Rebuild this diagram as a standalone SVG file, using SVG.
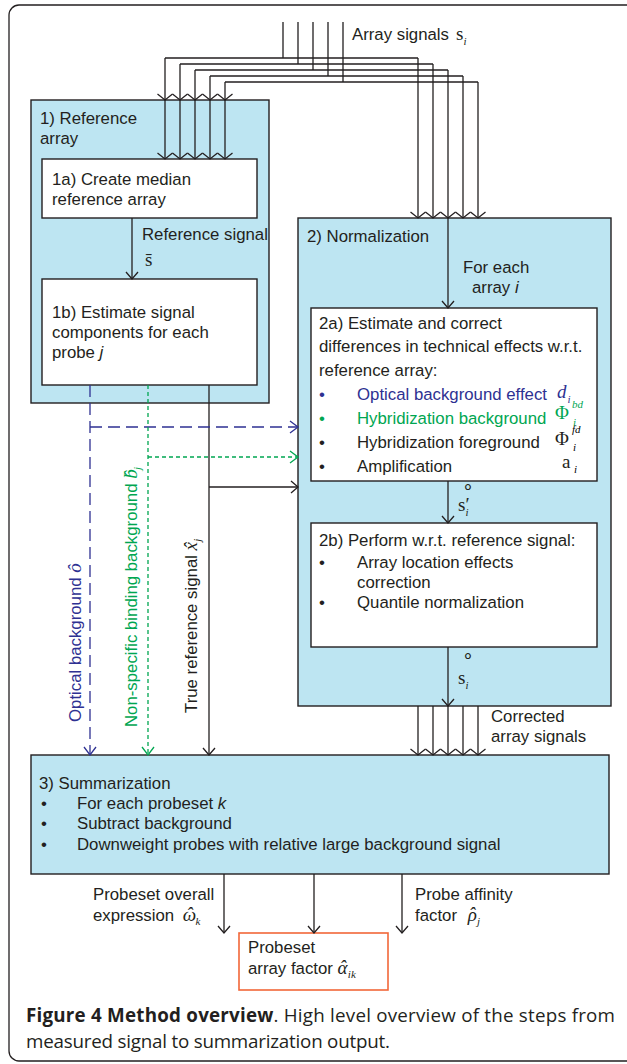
<svg xmlns="http://www.w3.org/2000/svg" width="627" height="1064" viewBox="0 0 627 1064">
<style>
.t{font-family:"Liberation Sans",Arial,sans-serif;font-size:16.8px;fill:#231f20}
.m{font-family:"Liberation Serif","Times New Roman",serif;font-size:19px;fill:#231f20}
.mi{font-family:"Liberation Serif","Times New Roman",serif;font-style:italic;font-size:19px}
.sub{font-family:"Liberation Serif","Times New Roman",serif;font-style:italic;font-size:11px}
.blue{fill:#2e3192}
.green{fill:#00a651}
.box{fill:#bde5f2;stroke:#231f20;stroke-width:1.4}
.wbox{fill:#ffffff;stroke:#231f20;stroke-width:1.4}
.ln{fill:none;stroke:#231f20;stroke-width:1.3}
.cap{font-family:"Open Sans","Noto Sans",sans-serif;font-size:18.8px;fill:#231f20}
</style>
<defs>
<marker id="ah" markerUnits="userSpaceOnUse" markerWidth="20" markerHeight="20" viewBox="-10 -10 20 20" refX="0" refY="0" orient="auto">
<path d="M-7,-6 L0,0 L-7,6" fill="none" stroke="#231f20" stroke-width="1.3"/>
</marker>
<marker id="az" markerUnits="userSpaceOnUse" markerWidth="20" markerHeight="20" viewBox="-10 -10 20 20" refX="0" refY="0" orient="auto">
<path d="M-6,-7.5 L0,0 L-6,7.5" fill="none" stroke="#231f20" stroke-width="1.3"/>
</marker>
<marker id="ab" markerUnits="userSpaceOnUse" markerWidth="20" markerHeight="20" viewBox="-10 -10 20 20" refX="0" refY="0" orient="auto">
<path d="M-8,-6 L0,0 L-8,6" fill="none" stroke="#2e3192" stroke-width="1.3"/>
</marker>
<marker id="ag" markerUnits="userSpaceOnUse" markerWidth="20" markerHeight="20" viewBox="-10 -10 20 20" refX="0" refY="0" orient="auto">
<path d="M-8,-6 L0,0 L-8,6" fill="none" stroke="#00a651" stroke-width="1.3"/>
</marker>
</defs>

<rect x="9" y="5" width="640" height="1056" rx="10" fill="#ffffff" stroke="#231f20" stroke-width="1.3"/>

<g id="box1">
<rect class="box" x="31" y="100" width="238" height="303"/>
<text class="t" x="40" y="124">1) Reference</text>
<text class="t" x="40" y="144">array</text>
</g>
<g id="box1a">
<rect class="wbox" x="42" y="159" width="215" height="59"/>
<text class="t" x="52" y="185">1a) Create median</text>
<text class="t" x="52" y="205">reference array</text>
</g>
<g id="box1b">
<rect class="wbox" x="42" y="279" width="215" height="106"/>
<text class="t" x="52" y="318">1b) Estimate signal</text>
<text class="t" x="52" y="338">components for each</text>
<text class="t" x="52" y="358">probe <tspan font-style="italic">j</tspan></text>
</g>
<g id="box2">
<rect class="box" x="298" y="218" width="313" height="488"/>
<text class="t" x="307" y="242">2) Normalization</text>
</g>
<g id="box2a">
<rect class="wbox" x="311" y="308" width="286" height="173"/>
<text class="t" x="319" y="329">2a) Estimate and correct</text>
<text class="t" x="319" y="352">differences in technical effects w.r.t.</text>
<text class="t" x="319" y="376">reference array:</text>
<text class="t blue" x="319" y="400">•</text>
<text class="t blue" x="357" y="400">Optical background effect</text>
<text class="t green" x="319" y="424">•</text>
<text class="t green" x="357" y="424">Hybridization background</text>
<text class="t" x="319" y="448">•</text>
<text class="t" x="357" y="448">Hybridization foreground</text>
<text class="t" x="319" y="472">•</text>
<text class="t" x="357" y="472">Amplification</text>
<text class="mi blue" x="557" y="398">d<tspan class="sub" dx="1" dy="5">i</tspan></text>
<text class="m green" x="555" y="419">Φ</text>
<text class="sub green" x="572" y="408" font-size="10">bd</text>
<text class="sub green" x="573" y="426" font-size="10">i</text>
<text class="m" x="555" y="445">Φ</text>
<text class="sub" x="572" y="433" font-size="10">fd</text>
<text class="sub" x="573" y="451" font-size="10">i</text>
<text class="m" x="562" y="468">a</text>
<text class="sub" x="574" y="473">i</text>
</g>
<g id="box2b">
<rect class="wbox" x="311" y="523" width="286" height="124"/>
<text class="t" x="319" y="546">2b) Perform w.r.t. reference signal:</text>
<text class="t" x="319" y="568">•</text>
<text class="t" x="357" y="568">Array location effects</text>
<text class="t" x="357" y="588">correction</text>
<text class="t" x="319" y="608">•</text>
<text class="t" x="357" y="608">Quantile normalization</text>
</g>
<g id="box3">
<rect class="box" x="31" y="755" width="578" height="119"/>
<text class="t" x="39" y="789">3) Summarization</text>
<text class="t" x="41" y="809">•</text>
<text class="t" x="77" y="809">For each probeset <tspan font-style="italic">k</tspan></text>
<text class="t" x="41" y="829">•</text>
<text class="t" x="77" y="829">Subtract background</text>
<text class="t" x="41" y="850">•</text>
<text class="t" x="77" y="850">Downweight probes with relative large background signal</text>
</g>
<g id="outbox">
<rect x="239" y="933" width="149" height="57" fill="#ffffff" stroke="#f26739" stroke-width="1.6"/>
<text class="t" x="248" y="953">Probeset</text>
<text class="t" x="248" y="974">array factor <tspan class="mi">α</tspan><tspan class="mi" dx="-8" dy="-1">ˆ</tspan><tspan class="sub" dx="2" dy="5">ik</tspan></text>
</g>

<g id="connectors">
<path class="ln" d="M283,22 V58 M298,22 V64 M313,22 V70 M328,22 V76 M343,22 V82"/>
<path class="ln" d="M165,58 H418 M180,64 H433 M195,70 H448 M210,76 H463 M225,82 H478"/>
<g class="ln" marker-end="url(#az)">
<path d="M165,58 V100"/><path d="M180,64 V100"/><path d="M195,70 V100"/><path d="M210,76 V100"/><path d="M225,82 V100"/>
<path d="M165,100 V159"/><path d="M180,100 V159"/><path d="M195,100 V159"/><path d="M210,100 V159"/><path d="M225,100 V159"/>
<path d="M418,58 V218"/><path d="M433,64 V218"/><path d="M448,70 V218"/><path d="M463,76 V218"/><path d="M478,82 V218"/>
<path d="M418,706 V755"/><path d="M433,706 V755"/><path d="M448,706 V755"/><path d="M463,706 V755"/><path d="M478,706 V755"/>
</g>
<g class="ln" marker-end="url(#ah)">
<path d="M132,218 V279"/>
<path d="M448,218 V308"/>
<path d="M448,481 V523"/>
<path d="M448,647 V706"/>
<path d="M209,385 V755"/>
<path d="M209,487 H298"/>
<path d="M224,874 V933"/>
<path d="M314,874 V933"/>
<path d="M402,874 V933"/>
</g>
<path d="M90,385 V755 M90,427 H298" fill="none" stroke="#2e3192" stroke-width="1.3" stroke-dasharray="12,6"/>
<path d="M90,740 V755" fill="none" stroke="none" marker-end="url(#ab)"/>
<path d="M290,427 H298" fill="none" stroke="none" marker-end="url(#ab)"/>
<path d="M148,385 V755 M148,457 H298" fill="none" stroke="#00a651" stroke-width="1.3" stroke-dasharray="4,3"/>
<path d="M148,740 V755" fill="none" stroke="none" marker-end="url(#ag)"/>
<path d="M290,457 H298" fill="none" stroke="none" marker-end="url(#ag)"/>
</g>

<g id="labels">
<text class="t" x="352" y="40">Array signals</text>
<text class="m" x="456" y="40">s<tspan class="sub" dy="5">i</tspan></text>
<text class="t" x="142" y="240">Reference signal</text>
<text class="m" x="145" y="266">s̄</text>
<text class="t" x="463" y="273">For each</text>
<text class="t" x="472" y="293">array <tspan font-style="italic">i</tspan></text>
<text class="m" x="458" y="511">s′<tspan class="sub" dx="-4" dy="5">i</tspan></text>
<text class="m" x="462" y="493" font-size="8">∘</text>
<text class="m" x="458" y="684">s<tspan class="sub" dy="5">i</tspan></text>
<text class="m" x="462" y="662" font-size="8">∘</text>
<text class="t" x="491" y="722">Corrected</text>
<text class="t" x="491" y="742">array signals</text>
<text class="t blue" transform="translate(81,722) rotate(-90)">Optical background <tspan class="mi blue">ô</tspan></text>
<text class="t green" transform="translate(137,727) rotate(-90)">Non-specific binding background <tspan class="mi green">b</tspan><tspan class="mi green" dx="-8">ˆ</tspan><tspan class="sub" dx="1" dy="4">j</tspan></text>
<text class="t" transform="translate(197,713) rotate(-90)">True reference signal <tspan class="mi">x</tspan><tspan class="mi" dx="-7">ˆ</tspan><tspan class="sub" dx="1" dy="4">j</tspan></text>
<text class="t" x="93" y="900">Probeset overall</text>
<text class="t" x="93" y="921">expression <tspan class="mi" dx="4">ω</tspan><tspan class="mi" dx="-10" dy="-1">ˆ</tspan><tspan class="sub" dx="3" dy="5">k</tspan></text>
<text class="t" x="415" y="900">Probe affinity</text>
<text class="t" x="415" y="921">factor <tspan class="mi" dx="6">ρ</tspan><tspan class="mi" dx="-8" dy="-1">ˆ</tspan><tspan class="sub" dx="2" dy="5">j</tspan></text>
</g>

<g id="caption">
<text class="cap" x="26" y="1022" textLength="589" lengthAdjust="spacing"><tspan font-weight="bold">Figure 4 Method overview</tspan>. High level overview of the steps from</text>
<text class="cap" x="26" y="1048" textLength="364" lengthAdjust="spacing">measured signal to summarization output.</text>
</g>
</svg>
